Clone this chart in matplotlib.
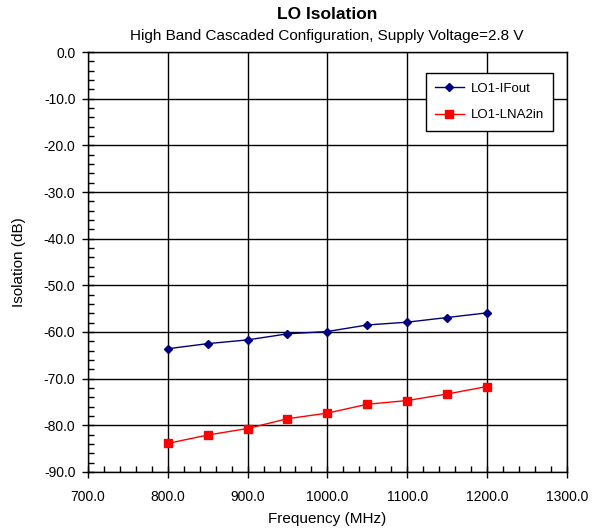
import matplotlib
matplotlib.use('Agg')
import matplotlib.pyplot as plt
from matplotlib.ticker import FormatStrFormatter, MultipleLocator

plt.rcParams['font.family'] = ['Liberation Sans', 'DejaVu Sans']

# Data
freq = [800, 850, 900, 950, 1000, 1050, 1100, 1150, 1200]
lo1_ifout = [-63.6, -62.5, -61.7, -60.4, -59.9, -58.5, -57.9, -56.9, -55.9]
lo1_lna2in = [-83.9, -82.1, -80.7, -78.6, -77.4, -75.5, -74.7, -73.3, -71.7]

fig = plt.figure(figsize=(5.98, 5.32), dpi=100)
ax = fig.add_axes([0.147, 0.113, 0.801, 0.789])

ax.plot(freq, lo1_ifout, color='#000080', marker='D', markersize=4.5,
        linewidth=1, label='LO1-IFout')
ax.plot(freq, lo1_lna2in, color='#ff0000', marker='s', markersize=6,
        linewidth=1, label='LO1-LNA2in')

ax.set_xlim(700, 1300)
ax.set_ylim(-90, 0)
ax.xaxis.set_major_locator(MultipleLocator(100))
ax.xaxis.set_minor_locator(MultipleLocator(20))
ax.yaxis.set_major_locator(MultipleLocator(10))
ax.yaxis.set_minor_locator(MultipleLocator(2))
ax.xaxis.set_major_formatter(FormatStrFormatter('%.1f'))
ax.yaxis.set_major_formatter(FormatStrFormatter('%.1f'))
ax.tick_params(which='major', direction='inout', length=8, width=1,
               labelsize=10, colors='black', pad=5)
ax.tick_params(axis='x', which='major', pad=9)
ax.tick_params(which='minor', direction='in', length=4, width=1, colors='black')
ax.grid(True, which='major', color='black', linewidth=1)
ax.set_axisbelow(True)
for s in ax.spines.values():
    s.set_linewidth(1)

ax.set_xlabel('Frequency (MHz)', fontsize=11, labelpad=6)
ax.set_ylabel('Isolation (dB)', fontsize=11, labelpad=13)

fig.text(0.547, 0.972, 'LO Isolation', ha='center', va='center',
         fontsize=12.5, fontweight='bold')
fig.text(0.547, 0.933, 'High Band Cascaded Configuration, Supply Voltage=2.8 V',
         ha='center', va='center', fontsize=11)

leg = ax.legend(loc='upper right', bbox_to_anchor=(0.971, 0.95), fontsize=9.5,
                fancybox=False, framealpha=1, edgecolor='black',
                borderaxespad=0, borderpad=0.7, labelspacing=1.1,
                handlelength=2.2, handletextpad=0.5)
leg.get_frame().set_linewidth(1)

fig.savefig('out.png', dpi=100)
